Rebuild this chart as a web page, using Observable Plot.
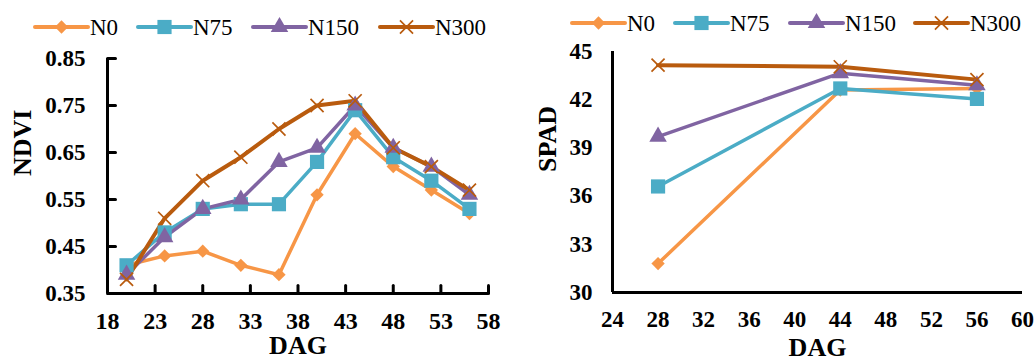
<!DOCTYPE html>
<html>
<head>
<meta charset="utf-8">
<script src="https://cdn.jsdelivr.net/npm/d3@7"></script>
<script src="https://cdn.jsdelivr.net/npm/@observablehq/plot@0.6"></script>
<style>
  html, body { margin: 0; padding: 0; background: #fff; }
  #wrap { position: relative; width: 1036px; height: 360px; overflow: hidden; }
  .panel { position: absolute; top: 0; width: 518px; height: 360px; }
  .panel svg { position: absolute; left: 0; top: 0; }
</style>
</head>
<body>
<div id="wrap">
  <div class="panel" id="left" style="left:0px"></div>
  <div class="panel" id="right" style="left:518px"></div>
</div>
<script>
// ---------- data ----------
const seriesNames = ["N0", "N75", "N150", "N300"];
const seriesColors = ["#F79646", "#4BACC6", "#8064A2", "#B95B0E"];
const seriesSymbols = ["diamond2", "square", "triangle", "times"];

const dagNDVI = [20, 24, 28, 32, 36, 40, 44, 48, 52, 56];
const ndviN0   = [0.41, 0.43, 0.44, 0.41, 0.39, 0.56, 0.69, 0.62, 0.57, 0.52];
const ndviN75  = [0.41, 0.48, 0.53, 0.54, 0.54, 0.63, 0.74, 0.64, 0.59, 0.53];
const ndviN150 = [0.39, 0.47, 0.53, 0.55, 0.63, 0.66, 0.75, 0.66, 0.62, 0.56];
const ndviN300 = [0.38, 0.51, 0.59, 0.64, 0.70, 0.75, 0.76, 0.66, 0.62, 0.57];
const ndviTicksX = [18, 23, 28, 33, 38, 43, 48, 53, 58];
const ndviTicksY = [0.35, 0.45, 0.55, 0.65, 0.75, 0.85];

const dagSPAD = [28, 44, 56];
const spadN0   = [31.8, 42.6, 42.7];
const spadN75  = [36.6, 42.7, 42.05];
const spadN150 = [39.7, 43.65, 42.9];
const spadN300 = [44.15, 44.05, 43.25];
const spadTicksX = [24, 28, 32, 36, 40, 44, 48, 52, 56, 60];
const spadTicksY = [30, 33, 36, 39, 42, 45];

function toRows(xs, lists) {
  const rows = [];
  lists.forEach((vals, i) => vals.forEach((v, j) => rows.push({series: seriesNames[i], x: xs[j], y: v})));
  return rows;
}
const ndviRows = toRows(dagNDVI, [ndviN0, ndviN75, ndviN150, ndviN300]);
const spadRows = toRows(dagSPAD, [spadN0, spadN75, spadN150, spadN300]);

const FONT = "'Liberation Serif', 'Times New Roman', serif";
const symR = {diamond2: 6, square: 8, triangle: 6.5, times: 6};
const tickShape = {draw(context, l) { context.moveTo(0, 0); context.lineTo(0, -l); }};

function seriesMarks(rows) {
  const marks = [];
  seriesNames.forEach((s, i) => {
    const d = rows.filter(r => r.series === s);
    marks.push(Plot.line(d, {x: "x", y: "y", stroke: seriesColors[i], strokeWidth: i === 3 ? 4 : 3.5}));
  });
  seriesNames.forEach((s, i) => {
    const d = rows.filter(r => r.series === s);
    const sym = seriesSymbols[i];
    if (sym === "times") {
      marks.push(Plot.dot(d, {x: "x", y: "y", symbol: () => sym, r: symR[sym], stroke: seriesColors[i], strokeWidth: 1.7, fill: "none"}));
    } else {
      marks.push(Plot.dot(d, {x: "x", y: "y", symbol: () => sym, r: symR[sym], fill: seriesColors[i], stroke: "none"}));
    }
  });
  return marks;
}

// ---------- left: NDVI ----------
const left = Plot.plot({
  width: 518, height: 360,
  marginLeft: 107, marginRight: 30, marginTop: 58, marginBottom: 67,
  style: {fontFamily: FONT, background: "transparent", overflow: "visible"},
  x: {domain: [18, 58], label: null},
  y: {domain: [0.35, 0.85], label: null},
  marks: [
    ...seriesMarks(ndviRows),
    // inward tick marks
    Plot.vector(ndviTicksX.slice(1), {x: d => d, y: 0.35, length: 8, anchor: "start", shape: tickShape, stroke: "#000", strokeWidth: 3}),
    Plot.vector(ndviTicksY, {x: 18, y: d => d, length: 8, rotate: 90, anchor: "start", shape: tickShape, stroke: "#000", strokeWidth: 3}),
    Plot.axisX({ticks: ndviTicksX, tickSize: 0, tickPadding: 18, tickFormat: d => String(d), fontSize: 24, fontWeight: "bold", fill: "#000", label: null}),
    Plot.axisY({ticks: ndviTicksY, tickSize: 0, tickPadding: 22, tickFormat: d3.format(".2f"), fontSize: 23, fontWeight: "bold", fill: "#000", label: null}),
    Plot.ruleX([18], {stroke: "#000", strokeWidth: 3, y1: 0.35, y2: 0.85}),
    Plot.ruleY([0.35], {stroke: "#000", strokeWidth: 3, x1: 18, x2: 58}),
    Plot.text(["DAG"], {frameAnchor: "bottom", dy: 60, fontSize: 26, fontWeight: "bold", fill: "#000"}),
    Plot.text(["NDVI"], {frameAnchor: "left", dx: -85, rotate: -90, fontSize: 26, fontWeight: "bold", fill: "#000"})
  ]
});
document.getElementById("left").appendChild(left);

// ---------- right: SPAD ----------
const right = Plot.plot({
  width: 518, height: 360,
  marginLeft: 94, marginRight: 14, marginTop: 51, marginBottom: 68,
  style: {fontFamily: FONT, background: "transparent", overflow: "visible"},
  x: {domain: [24, 60], label: null},
  y: {domain: [30, 45], label: null},
  marks: [
    ...seriesMarks(spadRows),
    Plot.axisX({ticks: spadTicksX, tickSize: 0, tickPadding: 18, tickFormat: d => String(d), fontSize: 23, fontWeight: "bold", fill: "#000", label: null, letterSpacing: 4}),
    Plot.axisY({ticks: spadTicksY, tickSize: 0, tickPadding: 20, tickFormat: d => String(d), fontSize: 23, fontWeight: "bold", fill: "#000", label: null}),
    Plot.ruleX([24], {stroke: "#000", strokeWidth: 3, y1: 30, y2: 45}),
    Plot.ruleY([30], {stroke: "#000", strokeWidth: 3, x1: 24, x2: 60}),
    Plot.text(["DAG"], {frameAnchor: "bottom", dy: 63, fontSize: 26, fontWeight: "bold", fill: "#000"}),
    Plot.text(["SPAD"], {frameAnchor: "left", dx: -65, rotate: -90, fontSize: 26, fontWeight: "bold", fill: "#000"})
  ]
});
document.getElementById("right").appendChild(right);

// ---------- legends ----------
function legend(container, starts, y) {
  const svg = d3.select(container).append("svg")
    .attr("width", 518).attr("height", 50)
    .style("position", "absolute").style("left", "0px").style("top", "0px");
  const symMap = {diamond2: d3.symbolDiamond2, square: d3.symbolSquare, triangle: d3.symbolTriangle, times: d3.symbolTimes};
  seriesNames.forEach((s, i) => {
    const x0 = starts[i], len = 53;
    const g = svg.append("g");
    g.append("line").attr("x1", x0).attr("x2", x0 + len).attr("y1", y).attr("y2", y)
      .attr("stroke", seriesColors[i]).attr("stroke-width", 4).attr("stroke-linecap", "round");
    const sym = seriesSymbols[i];
    const r = symR[sym];
    const path = d3.symbol(symMap[sym], Math.PI * r * r)();
    const p = g.append("path").attr("d", path).attr("transform", `translate(${x0 + len / 2},${y})`);
    if (sym === "times") p.attr("fill", "none").attr("stroke", seriesColors[i]).attr("stroke-width", 1.7);
    else p.attr("fill", seriesColors[i]);
    g.append("text").attr("x", x0 + len + 2).attr("y", y).attr("dy", "0.35em")
      .attr("font-family", FONT).attr("font-size", 23).attr("fill", "#000").text(s);
  });
}
legend(document.getElementById("left"), [35, 138, 253, 380], 27);
legend(document.getElementById("right"), [54, 157, 272, 397], 23);
</script>
</body>
</html>
